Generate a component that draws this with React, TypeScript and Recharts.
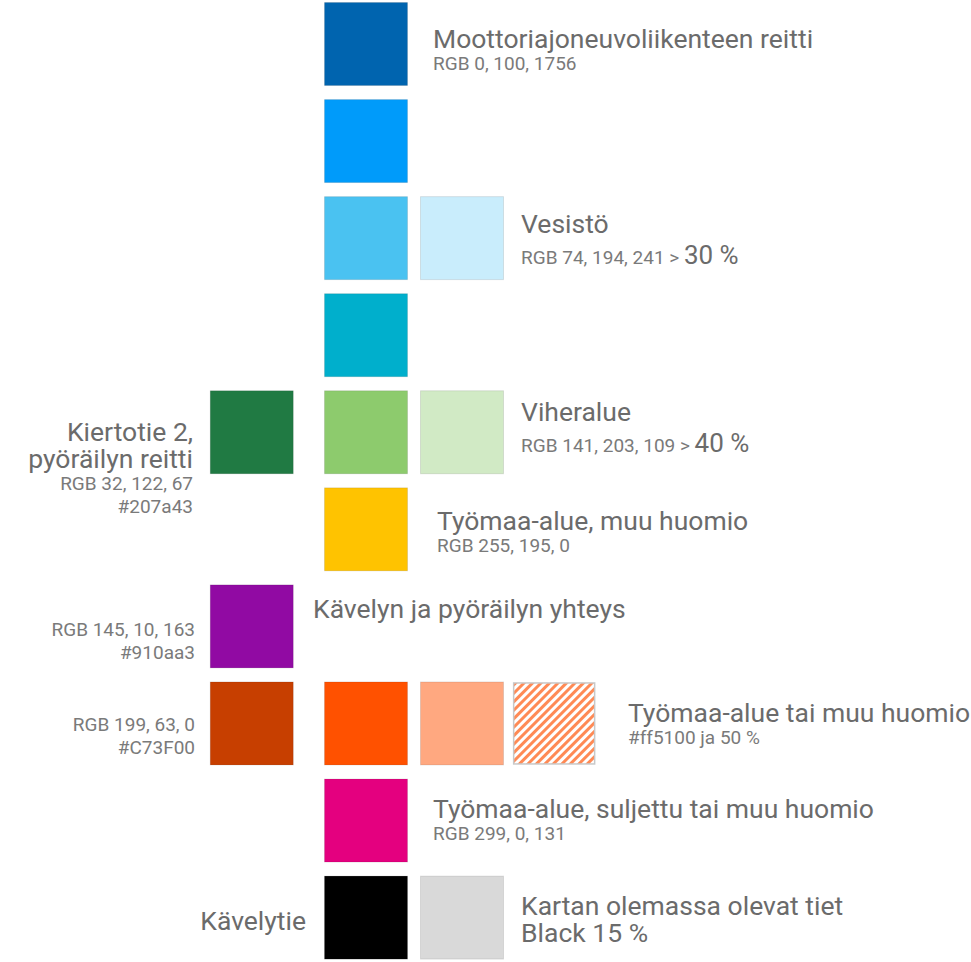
import { ScatterChart, Scatter, XAxis, YAxis } from 'recharts'

// colour swatches: x = column, y = row
const swatches = [
  { x: 0, y: 0, fill: '#0064af' },
  { x: 0, y: 1, fill: '#009bfa' },
  { x: 0, y: 2, fill: '#4ac2f1' },
  { x: 1, y: 2, fill: '#c9edfc' },
  { x: 0, y: 3, fill: '#00afcc' },
  { x: -1.19, y: 4, fill: '#207a43' },
  { x: 0, y: 4, fill: '#8dcb6d' },
  { x: 1, y: 4, fill: '#d1eac5' },
  { x: 0, y: 5, fill: '#ffc300' },
  { x: -1.19, y: 6, fill: '#910aa3' },
  { x: -1.19, y: 7, fill: '#c73f00' },
  { x: 0, y: 7, fill: '#ff5100' },
  { x: 1, y: 7, fill: '#ffa880' },
  { x: 1.96, y: 7, fill: 'hatch' },
  { x: 0, y: 8, fill: '#e4007f' },
  { x: 0, y: 9, fill: '#000000' },
  { x: 1, y: 9, fill: '#d9d9d9' },
]

type Line = { text: string; kind: 'title' | 'sub'; pct?: string }
type Note = { x: number; y: number; anchor: 'start' | 'end'; lines: Line[] }

const t = (text: string): Line => ({ text, kind: 'title' })
const s = (text: string, pct?: string): Line => ({ text, kind: 'sub', pct })

const notes: Note[] = [
  { x: 0.698, y: 0.041, anchor: 'start', lines: [t('Moottoriajoneuvoliikenteen reitti'), s('RGB 0, 100, 1756')] },
  { x: 1.615, y: 1.946, anchor: 'start', lines: [t('Vesistö'), s('RGB 74, 194, 241 > ', '30 %')] },
  { x: 1.615, y: 3.882, anchor: 'start', lines: [t('Viheralue'), s('RGB 141, 203, 109  > ', '40 %')] },
  { x: -1.802, y: 4.088, anchor: 'end', lines: [t('Kiertotie 2,'), t('pyöräilyn reitti'), s('RGB 32, 122, 67'), s('#207a43')] },
  { x: 0.74, y: 5.005, anchor: 'start', lines: [t('Työmaa-alue, muu huomio'), s('RGB 255, 195, 0')] },
  { x: -0.552, y: 5.911, anchor: 'start', lines: [t('Kävelyn ja pyöräilyn yhteys')] },
  { x: -1.781, y: 6.096, anchor: 'end', lines: [s('RGB 145, 10, 163'), s('#910aa3')] },
  { x: -1.781, y: 7.074, anchor: 'end', lines: [s('RGB 199, 63, 0'), s('#C73F00')] },
  { x: 2.729, y: 6.982, anchor: 'start', lines: [t('Työmaa-alue tai muu huomio'), s('#ff5100 ja 50 %')] },
  { x: 0.698, y: 7.97, anchor: 'start', lines: [t('Työmaa-alue, suljettu tai muu huomio'), s('RGB 299, 0, 131')] },
  { x: -0.625, y: 9.124, anchor: 'end', lines: [t('Kävelytie')] },
  { x: 1.615, y: 8.969, anchor: 'start', lines: [t('Kartan olemassa olevat tiet'), t('Black 15 %')] },
]

const SIZE = 83
const FONT = 'Roboto, "Liberation Sans", sans-serif'

function Swatch(props: any) {
  const { cx, cy } = props
  const fill = props.payload?.fill ?? props.fill
  const x = cx - SIZE / 2
  const y = cy - SIZE / 2
  if (fill === 'hatch') {
    return (
      <g>
        <defs>
          <pattern id="hatch" width={6} height={6} patternUnits="userSpaceOnUse" patternTransform="rotate(45)">
            <rect x={0} y={0} width={3} height={6} fill="#ff8a55" />
          </pattern>
        </defs>
        <rect x={x + 1} y={y + 1} width={SIZE - 2} height={SIZE - 2} fill="#ffffff" />
        <rect x={x + 1} y={y + 1} width={SIZE - 2} height={SIZE - 2} fill="url(#hatch)" stroke="#c8c8c8" strokeWidth={1.5} />
      </g>
    )
  }
  return <rect x={x} y={y} width={SIZE} height={SIZE} fill={fill} stroke="rgba(0,0,0,0.1)" strokeWidth={1} />
}

function gap(prev: Line, cur: Line) {
  if (prev.kind === 'title' && cur.kind === 'title') return 27
  if (prev.kind === 'title') return cur.pct ? 31 : 22
  return 23.5
}

function NoteText(props: any) {
  const { cx, cy } = props
  const note: Note = props.payload ?? props
  let y = cy
  return (
    <g>
      {note.lines.map((line, i) => {
        if (i > 0) y += gap(note.lines[i - 1], line)
        const title = line.kind === 'title'
        return (
          <text
            key={i}
            x={cx}
            y={y}
            textAnchor={note.anchor}
            fontFamily={FONT}
            fontSize={title ? 26.5 : 19}
            fill={title ? '#6b6b6b' : '#7a7a7a'}
          >
            {line.text}
            {line.pct && <tspan fontSize={26} fill="#6b6b6b">{line.pct}</tspan>}
          </text>
        )
      })}
    </g>
  )
}

export default function App() {
  return (
    <div style={{ position: 'absolute', left: 0, top: 0, background: '#ffffff' }}>
      <ScatterChart width={971} height={962} margin={{ top: 44, right: 29, bottom: 25, left: 30 }}>
        <XAxis type="number" dataKey="x" domain={[-3.5, 6]} hide />
        <YAxis type="number" dataKey="y" domain={[0, 9.2]} reversed hide />
        <Scatter data={swatches} shape={<Swatch />} isAnimationActive={false} />
        <Scatter data={notes} shape={<NoteText />} isAnimationActive={false} />
      </ScatterChart>
    </div>
  )
}
